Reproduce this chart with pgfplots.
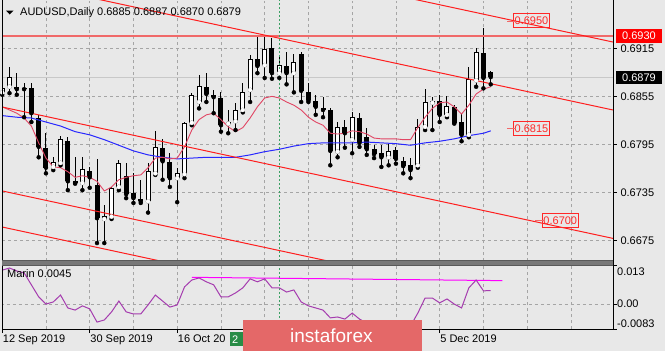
\documentclass[border=0pt]{standalone}
\usepackage{fontspec}
\setmainfont{Liberation Sans}
\usepackage{pgfplots}
\usepackage{pgfplotstable}
\pgfplotsset{compat=1.18}

\definecolor{bg}{RGB}{232,232,232}
\definecolor{gridc}{RGB}{165,165,165}
\definecolor{maR}{RGB}{225,70,100}
\definecolor{maB}{RGB}{40,40,255}
\definecolor{chan}{RGB}{255,30,30}
\definecolor{hline}{RGB}{240,105,105}
\definecolor{vgreen}{RGB}{60,160,100}
\definecolor{oscc}{RGB}{165,60,175}
\definecolor{lev}{RGB}{255,0,255}
\definecolor{logo}{RGB}{228,104,104}
\definecolor{greenlab}{RGB}{40,140,70}
\definecolor{sepc}{RGB}{120,120,120}
\definecolor{labred}{RGB}{255,40,40}
\definecolor{bidc}{RGB}{200,200,200}

\pgfplotstableread{
k O H L C
0 0.6860 0.6897 0.6857 0.6865
1 0.6867 0.6892 0.6859 0.6879
2 0.6867 0.6884 0.6857 0.6864
3 0.6865 0.6872 0.6829 0.6864
4 0.6865 0.6872 0.6823 0.6834
5 0.6828 0.6832 0.6779 0.6792
6 0.6791 0.6809 0.6759 0.6766
7 0.6767 0.6779 0.6763 0.6773
8 0.6772 0.6806 0.6769 0.6802
9 0.6799 0.6804 0.6738 0.6749
10 0.6749 0.6779 0.6746 0.6747
11 0.6747 0.6779 0.6738 0.6764
12 0.6762 0.6767 0.6741 0.6754
13 0.6744 0.6777 0.6672 0.6703
14 0.6702 0.6719 0.6672 0.6706
15 0.6705 0.6742 0.6702 0.6741
16 0.6742 0.6776 0.6738 0.6772
17 0.6756 0.6772 0.6728 0.6733
18 0.6734 0.6759 0.6722 0.6728
19 0.6727 0.6751 0.6722 0.6724
20 0.6724 0.6772 0.6710 0.6762
21 0.6759 0.6812 0.6757 0.6792
22 0.6791 0.6802 0.6751 0.6774
23 0.6773 0.6784 0.6742 0.6753
24 0.6753 0.6766 0.6723 0.6759
25 0.6758 0.6823 0.6753 0.6822
26 0.6822 0.6859 0.6819 0.6857
27 0.6848 0.6882 0.6840 0.6868
28 0.6867 0.6884 0.6848 0.6858
29 0.6857 0.6863 0.6834 0.6854
30 0.6853 0.6860 0.6811 0.6819
31 0.6821 0.6838 0.6809 0.6823
32 0.6824 0.6847 0.6813 0.6838
33 0.6838 0.6872 0.6835 0.6860
34 0.6863 0.6907 0.6848 0.6902
35 0.6902 0.6932 0.6884 0.6893
36 0.6894 0.6929 0.6878 0.6914
37 0.6915 0.6928 0.6877 0.6884
38 0.6884 0.6907 0.6878 0.6894
39 0.6893 0.6910 0.6870 0.6884
40 0.6884 0.6908 0.6860 0.6898
41 0.6908 0.6910 0.6848 0.6862
42 0.6860 0.6872 0.6848 0.6850
43 0.6849 0.6857 0.6832 0.6842
44 0.6840 0.6854 0.6829 0.6838
45 0.6838 0.6840 0.6769 0.6787
46 0.6786 0.6823 0.6779 0.6817
47 0.6817 0.6826 0.6791 0.6809
48 0.6801 0.6835 0.6784 0.6829
49 0.6828 0.6834 0.6792 0.6797
50 0.6804 0.6816 0.6782 0.6789
51 0.6789 0.6794 0.6778 0.6783
52 0.6784 0.6794 0.6767 0.6779
53 0.6779 0.6796 0.6769 0.6787
54 0.6788 0.6792 0.6771 0.6777
55 0.6774 0.6779 0.6759 0.6768
56 0.6769 0.6778 0.6753 0.6763
57 0.6769 0.6827 0.6766 0.6817
58 0.6817 0.6864 0.6813 0.6848
59 0.6847 0.6854 0.6813 0.6849
60 0.6849 0.6857 0.6823 0.6832
61 0.6832 0.6855 0.6829 0.6843
62 0.6842 0.6844 0.6821 0.6822
63 0.6823 0.6834 0.6799 0.6807
64 0.6807 0.6892 0.6804 0.6877
65 0.6875 0.6915 0.6867 0.6910
66 0.6909 0.6940 0.6865 0.6878
67 0.6885 0.6887 0.6870 0.6879
}\candles

\pgfplotstableread{
k r
0 0.6842
1 0.6838
2 0.6834
3 0.6828
4 0.6818
5 0.6797
6 0.6778
7 0.6767
8 0.6766
9 0.6761
10 0.6754
11 0.6756
12 0.6754
13 0.6749
14 0.6737
15 0.6742
16 0.6751
17 0.6754
18 0.6756
19 0.6757
20 0.6766
21 0.6778
22 0.6779
23 0.6777
24 0.6778
25 0.6792
26 0.6813
27 0.6826
28 0.6832
29 0.6834
30 0.6826
31 0.6817
32 0.6811
33 0.6816
34 0.6828
35 0.6842
36 0.6853
37 0.6855
38 0.6853
39 0.6848
40 0.6844
41 0.6838
42 0.6829
43 0.6823
44 0.6819
45 0.6809
46 0.6808
47 0.6809
48 0.6812
49 0.6811
50 0.6808
51 0.6803
52 0.6802
53 0.6802
54 0.6802
55 0.6801
56 0.6801
57 0.6816
58 0.6829
59 0.6840
60 0.6847
61 0.6848
62 0.6842
63 0.6833
64 0.6844
65 0.6858
66 0.6864
67 0.6867
}\mared

\pgfplotstableread{
k b
0 0.6831
2 0.6829
4 0.6828
6 0.6823
8 0.6818
10 0.6811
12 0.6807
14 0.6801
16 0.6794
18 0.6787
20 0.6782
22 0.6779
24 0.6777
26 0.6778
28 0.6779
30 0.6779
32 0.6779
34 0.6782
36 0.6786
38 0.6789
40 0.6793
42 0.6796
44 0.6797
46 0.6797
48 0.6797
50 0.6798
52 0.6797
54 0.6796
56 0.6794
58 0.6797
60 0.6799
62 0.6802
64 0.6806
66 0.6809
67 0.6812
}\mablue

\pgfplotstableread{
k v
0 0.0113
1 0.0120
2 0.0110
3 0.0104
4 0.0064
5 0.0024
6 0.0000
7 0.0007
8 0.0030
9 -0.0013
10 -0.0020
11 -0.0006
12 -0.0016
13 -0.0060
14 -0.0053
15 -0.0026
16 0.0010
17 -0.0026
18 -0.0033
19 -0.0033
20 -0.0003
21 0.0030
22 0.0010
23 -0.0010
24 -0.0003
25 0.0057
26 0.0080
27 0.0087
28 0.0074
29 0.0064
30 0.0024
31 0.0024
32 0.0037
33 0.0054
34 0.0084
35 0.0074
36 0.0084
37 0.0054
38 0.0054
39 0.0040
40 0.0047
41 0.0007
42 -0.0006
43 -0.0013
44 -0.0020
45 -0.0046
46 -0.0043
47 -0.0050
48 -0.0030
49 -0.0050
50 -0.0063
51 -0.0070
52 -0.0076
53 -0.0070
54 -0.0073
55 -0.0076
56 -0.0073
57 -0.0030
58 0.0020
59 0.0020
60 0.0004
61 0.0017
62 0.0000
63 -0.0013
64 0.0054
65 0.0080
66 0.0044
67 0.0045
}\oscdata

\begin{document}
\begin{tikzpicture}[font=\fontsize{11}{13}\selectfont]
\fill[bg] (0pt,0pt) rectangle (665pt,-351pt);

% ---------------- main price panel ----------------
\begin{axis}[
  at={(2pt,-261pt)}, anchor=south west,
  scale only axis, width=611pt, height=260pt,
  xmin=-0.03, xmax=83.77, ymin=0.66496, ymax=0.69740,
  axis line style={draw=none},
  xtick={0,6,...,84}, xticklabels={}, xtick pos=left,
  ytick={0.6675,0.6735,0.6795,0.6855,0.6915}, ytick pos=right, yticklabel pos=right,
  scaled ticks=false,
  tick label style={font=\fontsize{11}{13}\selectfont},
  yticklabel style={/pgf/number format/.cd, fixed, fixed zerofill, precision=4, assume math mode=true},
  grid=major, major grid style={gridc, dash pattern=on 3pt off 3pt, line width=0.8pt},
  tick align=outside, major tick length=4pt, tick style={black, line width=0.8pt},
]
% bid line
\addplot[bidc, line width=1pt] coordinates {(-1,0.6879) (90,0.6879)};
% wicks
\addplot[black, only marks, mark=none,
  error bars/.cd, y dir=plus, y explicit, error mark=none,
  error bar style={black, line width=1pt}]
  table[x=k, y=L, y error plus expr={\thisrow{H}-\thisrow{L}}] {\candles};
% bodies (black, full)
\addplot[black, only marks, mark=none,
  error bars/.cd, y dir=plus, y explicit, error mark=none,
  error bar style={black, line width=5pt}]
  table[x=k, y expr={min(\thisrow{O},\thisrow{C})}, y error plus expr={abs(\thisrow{C}-\thisrow{O})}] {\candles};
% white inner of bullish bodies
\addplot[white, only marks, mark=none,
  error bars/.cd, y dir=plus, y explicit, error mark=none,
  error bar style={white, line width=3pt, shorten <=1pt, shorten >=1pt}]
  table[x=k, y expr={\thisrow{C}>\thisrow{O} ? \thisrow{O} : nan}, y error plus expr={\thisrow{C}-\thisrow{O}}] {\candles};
% moving averages
\addplot[maB, line width=1pt] table[x=k, y=b] {\mablue};
\addplot[maR, line width=0.9pt] table[x=k, y=r] {\mared};
% horizontal level
\addplot[hline, line width=2pt] coordinates {(-1,0.6930) (90,0.6930)};
% channel lines
\addplot[chan, line width=1pt] coordinates {(50,0.69889) (83.77,0.69228)};
\addplot[chan, line width=1pt] coordinates {(0,0.70019) (83.77,0.68380)};
\addplot[chan, line width=1pt] coordinates {(0,0.68417) (83.77,0.66778)};
\addplot[chan, line width=1pt] coordinates {(0,0.67370) (83.77,0.65731)};
\addplot[chan, line width=1pt] coordinates {(0,0.66920) (83.77,0.65281)};
% vertical marker line
\addplot[vgreen, line width=1pt, dash pattern=on 2pt off 2pt] coordinates {(38,0.66) (38,0.70)};
% price labels
\node[draw=labred, text=labred, line width=0.8pt, inner xsep=1.5pt, inner ysep=3pt] at (axis cs:72.59,0.6950) {0.6950};
\node[draw=labred, text=labred, line width=0.8pt, inner xsep=1.5pt, inner ysep=3pt] at (axis cs:72.59,0.6815) {0.6815};
\node[draw=labred, text=labred, line width=0.8pt, inner xsep=1.5pt, inner ysep=3pt] at (axis cs:76.54,0.6700) {0.6700};
\end{axis}

% ---------------- indicator panel ----------------
\begin{axis}[
  at={(2pt,-329pt)}, anchor=south west,
  scale only axis, width=611pt, height=64pt,
  xmin=-0.03, xmax=83.77, ymin=-0.0083, ymax=0.013,
  axis line style={draw=none},
  xtick={0,12,24,36,48,60},
  xticklabels={12 Sep 2019,30 Sep 2019,16 Oct 20,{},{},5 Dec 2019},
  xtick pos=left,
  xticklabel style={anchor=north west, inner sep=0pt, yshift=-2pt, xshift=0.5pt},
  minor xtick={0,6,...,84}, xminorgrids,
  minor grid style={gridc, dash pattern=on 3pt off 3pt, line width=0.8pt},
  minor tick length=0pt,
  ytick={-0.0083,0,0.013}, yticklabels={}, ytick pos=right,
  scaled ticks=false,
  tick label style={font=\fontsize{11}{13}\selectfont},
  tick align=outside, major tick length=4pt, tick style={black, line width=0.8pt},
]
\addplot[gridc, dash pattern=on 3pt off 3pt, line width=0.8pt] coordinates {(-1,0) (90,0)};
\addplot[vgreen, line width=1pt, dash pattern=on 2pt off 2pt] coordinates {(38,-0.01) (38,0.02)};
\addplot[lev, line width=1pt] coordinates {(26,0.0089) (68.6,0.0078)};
\addplot[oscc, line width=1pt] table[x=k, y=v] {\oscdata};
\end{axis}

% ---------------- frame, texts, overlays ----------------
\begin{scope}[x=1pt,y=-1pt]
\draw[black, line width=1pt] (2,0) -- (2,329.5) -- (613,329.5) -- (613,0);
\fill[sepc] (2,260.5) rectangle (613,264.8);
\draw[black!65, line width=0.6pt] (2,260.5) -- (613,260.5) (2,264.8) -- (613,264.8);
% title
\fill[black] (6,10.5) -- (13.5,10.5) -- (9.75,14.5) -- cycle;
\node[anchor=base west, inner sep=0pt] at (20,15.7) {AUDUSD,Daily 0.6885 0.6887 0.6870 0.6879};
\node[anchor=base west, inner sep=0pt] at (7,277.7) {Marin 0.0045};
% leaders of price labels
\draw[hline, line width=1.6pt] (507,21.5) -- (516,21.5);
\draw[hline, line width=1.6pt] (507,128.5) -- (516,128.5);
\draw[hline, line width=1.6pt] (535,220.5) -- (545,220.5);
% right price boxes
\fill[red] (616,29) rectangle (662,43);
\node[white, anchor=base, inner sep=0pt] at (639,39.8) {0.6930};
\fill[black] (616,71) rectangle (662,84);
\node[white, anchor=base, inner sep=0pt] at (639,81.4) {0.6879};
% indicator scale labels
\node[anchor=base west, inner sep=0pt] at (617,275.4) {0.013};
\node[anchor=base west, inner sep=0pt] at (617,307.8) {0.00};
\node[anchor=base west, inner sep=0pt] at (617,327.0) {-0.0083};
% green date label of the vertical line
\fill[greenlab] (230,332) rectangle (332,345.5);
\node[white, anchor=base west, inner sep=0pt] at (232,343.3) {2};
% logo
\fill[logo] (243,320) rectangle (422,351);
\node[white, anchor=base west, inner sep=0pt, font=\fontsize{19}{20}\selectfont] at (290,342.3) {instaforex};
\end{scope}
\pgfresetboundingbox
\path[use as bounding box] (0pt,0pt) rectangle (665pt,-351pt);
\end{tikzpicture}
\end{document}
